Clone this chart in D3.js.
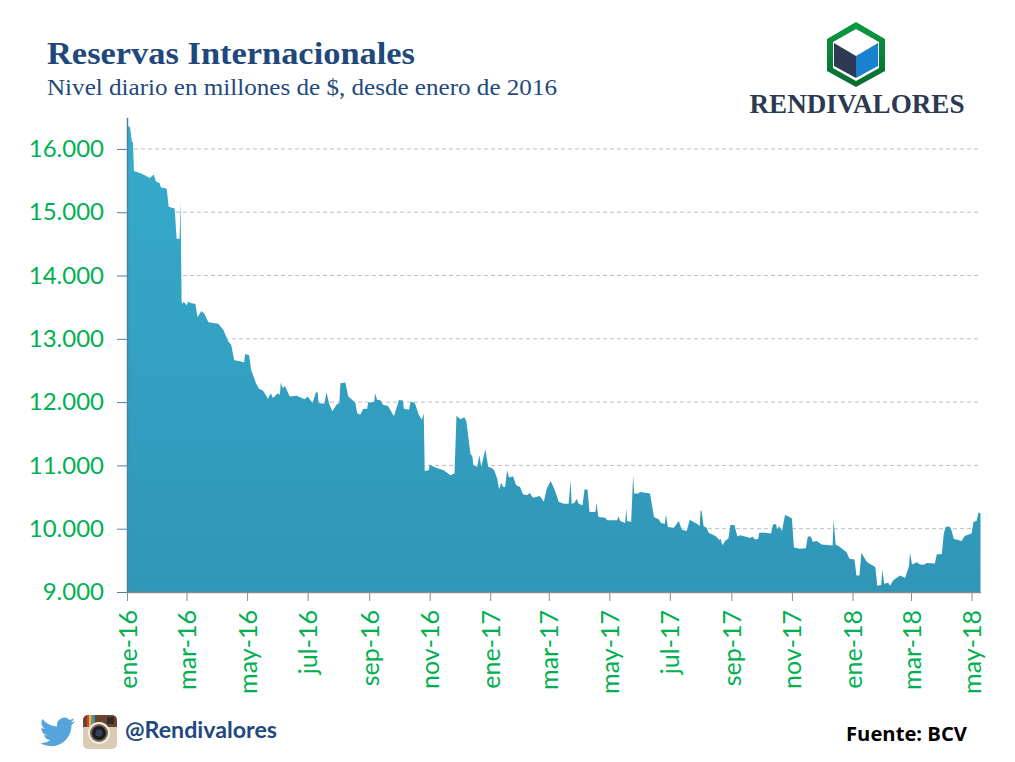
<!DOCTYPE html>
<html>
<head>
<meta charset="utf-8">
<script src="https://cdn.jsdelivr.net/npm/d3@7"></script>
<style>
  body { margin: 0; background: #fff; }
  svg { display: block; }
</style>
</head>
<body>
<svg id="chart" width="1015" height="762"></svg>
<script>
// dias desde el 1 de enero de 2016
const dias = [0,3,5,6,7,13,18,23,27,29,33,34,40,42,48,50,53,54,55,56,57,60,62,64,69,71,75,78,82,92,97,102,105,108,114,118,119,123,125,130,133,137,142,145,147,152,154,155,157,159,164,171,179,182,187,190,192,193,199,201,204,207,211,214,215,220,223,230,232,235,238,242,243,249,250,252,255,258,263,269,274,278,279,284,286,290,294,297,299,300,304,305,310,319,326,330,332,336,340,342,346,348,349,353,355,357,361,364,368,370,373,375,377,379,381,383,385,389,392,396,399,403,406,409,416,420,423,427,431,435,440,445,447,448,451,453,455,459,461,464,466,472,473,475,482,484,494,495,497,502,503,504,508,510,511,515,517,527,531,536,538,542,543,545,551,556,559,564,567,575,577,578,579,581,584,586,593,597,598,600,603,606,608,612,615,618,628,630,633,636,637,643,649,651,654,655,657,660,663,667,670,672,678,684,686,689,691,695,700,711,712,714,717,725,728,733,735,738,740,745,747,754,756,760,761,763,767,769,772,779,784,788,789,791,796,799,803,806,814,816,821,823,825,829,831,833,841,844,848,851,853,856,858,860];
const reservas = [16360,16350,16110,16110,15650,15620,15585,15540,15595,15490,15460,15395,15370,15085,15060,14580,14580,15175,13590,13550,13590,13530,13590,13565,13550,13345,13440,13395,13260,13240,13145,12960,12905,12660,12645,12625,12760,12740,12510,12300,12210,12185,12055,12140,12065,12140,12115,12310,12220,12260,12090,12100,12045,12090,11985,12140,12170,11985,11975,12155,11960,11855,11960,11985,12300,12310,12090,11995,11825,11800,11890,11895,11995,12000,12140,12035,12035,11960,11940,11775,12035,12025,11895,11880,12010,11985,11800,11720,11825,10910,10925,11015,10970,10925,10845,10875,11785,11730,11760,11695,11190,11140,11005,10980,11165,10980,11255,10980,10955,10925,10795,10620,10725,10660,10660,10925,10810,10830,10690,10660,10545,10530,10565,10490,10515,10425,10635,10755,10610,10425,10395,10395,10765,10395,10410,10475,10395,10370,10620,10620,10265,10265,10410,10185,10175,10135,10135,10195,10120,10090,10320,10120,10105,10845,10555,10555,10580,10555,10185,10145,10090,10080,10230,10025,10015,10120,9985,9965,10140,10070,10040,10290,10280,10040,10015,9935,9885,9820,9840,9740,9815,9845,10060,10060,9875,9895,9855,9875,9830,9840,9935,9935,9925,10070,10070,9990,10040,9965,10215,10190,10160,9705,9685,9690,9875,9875,9795,9805,9750,9735,10150,9745,9725,9630,9525,9515,9260,9260,9620,9485,9460,9395,9100,9110,9355,9130,9145,9100,9185,9260,9220,9410,9620,9435,9470,9435,9430,9460,9450,9595,9595,9925,10030,10030,9965,9840,9805,9885,9910,9925,10110,10120,10255,10245];

const ticksY = [9000,10000,11000,12000,13000,14000,15000,16000];
const etiquetasY = ["9.000","10.000","11.000","12.000","13.000","14.000","15.000","16.000"];
const fechasX = ["2016-01-01","2016-03-01","2016-05-01","2016-07-01","2016-09-01","2016-11-01","2017-01-01","2017-03-01","2017-05-01","2017-07-01","2017-09-01","2017-11-01","2018-01-01","2018-03-01","2018-05-01"];
const etiquetasX = ["ene-16","mar-16","may-16","jul-16","sep-16","nov-16","ene-17","mar-17","may-17","jul-17","sep-17","nov-17","ene-18","mar-18","may-18"];

const verde = "#00b050";
const azulTitulo = "#1f497d";
const parseFecha = d3.utcParse("%Y-%m-%d");
const inicio = parseFecha(fechasX[0]);
const puntos = dias.map((d, i) => ({ fecha: d3.utcDay.offset(inicio, d), valor: reservas[i] }));
const ticksX = fechasX.map(parseFecha);

const svg = d3.select("#chart");

const x = d3.scaleUtc()
  .domain([inicio, d3.utcDay.offset(inicio, 860)])
  .range([127, 980.5]);
const y = d3.scaleLinear().domain([9000, 16500]).range([592, 117.3]);

// degradado del area
const grad = svg.append("defs").append("linearGradient")
  .attr("id", "relleno").attr("x1", 0).attr("y1", 0).attr("x2", 0).attr("y2", 1);
grad.append("stop").attr("offset", "0%").attr("stop-color", "#36abcc");
grad.append("stop").attr("offset", "100%").attr("stop-color", "#3096b7");

// lineas de la cuadricula
svg.append("g").selectAll("line")
  .data(ticksY.slice(1))
  .enter().append("line")
  .attr("x1", 127).attr("x2", 980)
  .attr("y1", d => y(d)).attr("y2", d => y(d))
  .attr("stroke", "#bdbdbd")
  .attr("stroke-width", 1)
  .attr("stroke-dasharray", "4 3");

const area = d3.area()
  .x(d => x(d.fecha))
  .y0(y(9000))
  .y1(d => y(d.valor));

svg.append("path")
  .datum(puntos)
  .attr("d", area)
  .attr("fill", "url(#relleno)");

// eje y
const ejeY = svg.append("g")
  .attr("transform", "translate(127,0)")
  .call(d3.axisLeft(y).tickValues(ticksY).tickSize(10).tickPadding(13).tickSizeOuter(0)
    .tickFormat((d, i) => etiquetasY[i]));
ejeY.select(".domain").attr("stroke", "#4f81a3").attr("stroke-width", 1.5);
ejeY.selectAll(".tick line").attr("stroke", "#4f81a3").attr("stroke-width", 1);
ejeY.selectAll("text")
  .attr("fill", verde)
  .style("font-family", "Lato")
  .style("font-size", "24px");

// eje x
const ejeX = svg.append("g")
  .attr("transform", "translate(0,592)")
  .call(d3.axisBottom(x).tickValues(ticksX).tickSize(9).tickSizeOuter(0)
    .tickFormat((d, i) => etiquetasX[i]));
ejeX.select(".domain").attr("stroke", "#8a8a8a").attr("stroke-width", 1.5);
ejeX.selectAll(".tick line").attr("stroke", "#8a8a8a").attr("stroke-width", 1);
ejeX.selectAll("text")
  .attr("fill", verde)
  .attr("text-anchor", "end")
  .attr("transform", "translate(9,18) rotate(-90)")
  .attr("x", 0).attr("y", 0).attr("dy", 0)
  .style("font-family", "Lato")
  .style("font-size", "25px");

// titulos
svg.append("text").attr("x", 47).attr("y", 64)
  .text("Reservas Internacionales")
  .attr("fill", azulTitulo)
  .attr("textLength", 368).attr("lengthAdjust", "spacingAndGlyphs")
  .style("font-family", "Liberation Serif").style("font-weight", "bold").style("font-size", "31px");
svg.append("text").attr("x", 47).attr("y", 95)
  .text("Nivel diario en millones de $, desde enero de 2016")
  .attr("fill", azulTitulo)
  .attr("textLength", 510).attr("lengthAdjust", "spacingAndGlyphs")
  .style("font-family", "Liberation Serif").style("font-size", "23px");

// logo
const logoGrad = svg.select("defs").append("linearGradient")
  .attr("id", "logoVerde").attr("x1", 0).attr("y1", 0).attr("x2", 0).attr("y2", 1);
logoGrad.append("stop").attr("offset", "0%").attr("stop-color", "#0c9a40");
logoGrad.append("stop").attr("offset", "100%").attr("stop-color", "#0a6a30");
const logo = svg.append("g");
logo.append("polygon").attr("points", "856,22 885,39 885,71 856,87 827,71 827,39").attr("fill", "url(#logoVerde)");
logo.append("polygon").attr("points", "856,29 879,42 879,68 856,81 833,68 833,42").attr("fill", "#fff");
logo.append("polygon").attr("points", "834,43 856,56 856,78 834,66").attr("fill", "#2e3a52");
logo.append("polygon").attr("points", "878,43 856,56 856,78 878,66").attr("fill", "#1a80d0");
logo.append("text").attr("x", 857).attr("y", 113)
  .attr("text-anchor", "middle")
  .text("RENDIVALORES")
  .attr("fill", "#2b3a50")
  .attr("textLength", 215).attr("lengthAdjust", "spacingAndGlyphs")
  .style("font-family", "Liberation Serif").style("font-weight", "bold").style("font-size", "27px");

// pie: twitter
svg.append("path")
  .attr("transform", "translate(40,714.5) scale(1.46)")
  .attr("d", "M23.953 4.57a10 10 0 01-2.825.775 4.958 4.958 0 002.163-2.723c-.951.555-2.005.959-3.127 1.184a4.92 4.92 0 00-8.384 4.482C7.69 8.095 4.067 6.13 1.64 3.162a4.822 4.822 0 00-.666 2.475c0 1.71.87 3.213 2.188 4.096a4.904 4.904 0 01-2.228-.616v.06a4.923 4.923 0 003.946 4.827 4.996 4.996 0 01-2.212.085 4.936 4.936 0 004.604 3.417 9.867 9.867 0 01-6.102 2.105c-.39 0-.779-.023-1.17-.067a13.995 13.995 0 007.557 2.209c9.053 0 13.998-7.496 13.998-13.985 0-.21 0-.42-.015-.63A9.935 9.935 0 0024 4.59z")
  .attr("fill", "#55a5dc");

// pie: instagram
const insta = svg.append("g");
insta.append("rect").attr("x", 83).attr("y", 715).attr("width", 34).attr("height", 34).attr("rx", 5).attr("fill", "#dccbb4");
insta.append("path").attr("d", "M88 715h24a5 5 0 0 1 5 5v7h-34v-7a5 5 0 0 1 5-5z").attr("fill", "#6b4430");
insta.append("rect").attr("x", 87).attr("y", 715).attr("width", 2).attr("height", 12).attr("fill", "#d8443c");
insta.append("rect").attr("x", 89).attr("y", 715).attr("width", 2).attr("height", 12).attr("fill", "#e8b93c");
insta.append("rect").attr("x", 91).attr("y", 715).attr("width", 2).attr("height", 12).attr("fill", "#5aa860");
insta.append("rect").attr("x", 93).attr("y", 715).attr("width", 2).attr("height", 12).attr("fill", "#4a80c0");
insta.append("rect").attr("x", 107).attr("y", 717).attr("width", 7).attr("height", 7).attr("rx", 1).attr("fill", "#2e2a28");
insta.append("circle").attr("cx", 99).attr("cy", 733).attr("r", 11).attr("fill", "#f2ede4");
insta.append("circle").attr("cx", 99).attr("cy", 733).attr("r", 9).attr("fill", "#6f6258");
insta.append("circle").attr("cx", 99).attr("cy", 733).attr("r", 7).attr("fill", "#1f1c1e");
insta.append("circle").attr("cx", 99).attr("cy", 733).attr("r", 3.5).attr("fill", "#35405a");

svg.append("text").attr("x", 125).attr("y", 738)
  .text("@Rendivalores")
  .attr("fill", azulTitulo)
  .attr("textLength", 152).attr("lengthAdjust", "spacingAndGlyphs")
  .style("font-family", "Lato").style("font-weight", "bold").style("font-size", "22px");

svg.append("text").attr("x", 846).attr("y", 741)
  .text("Fuente: BCV")
  .attr("fill", "#000")
  .attr("textLength", 121).attr("lengthAdjust", "spacingAndGlyphs")
  .style("font-family", "Open Sans").style("font-weight", "bold").style("font-size", "20px");
</script>
</body>
</html>
